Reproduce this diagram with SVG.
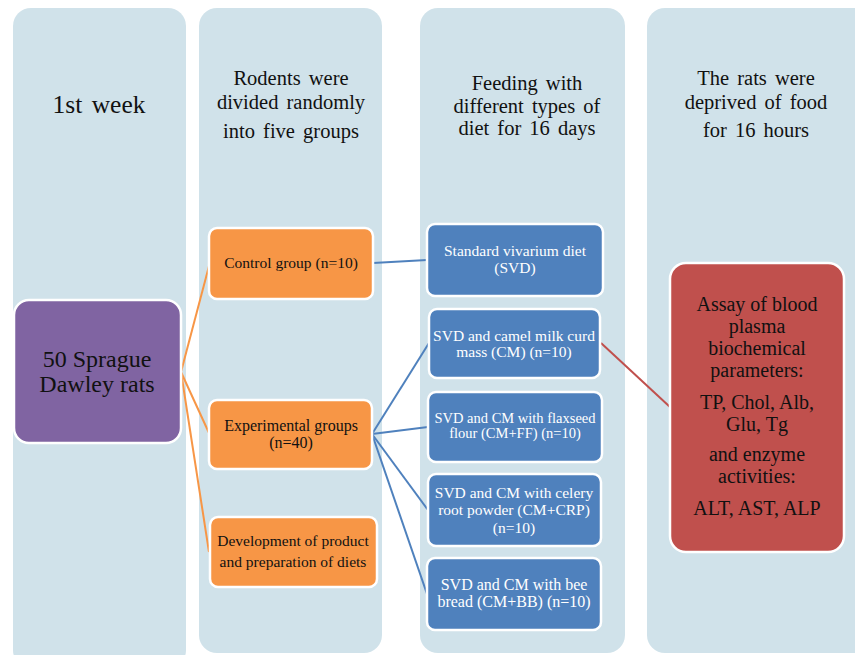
<svg xmlns="http://www.w3.org/2000/svg" width="855" height="655" viewBox="0 0 855 655">
<style>
.col{fill:#D0E2EA}
.hdr{font-family:"Liberation Serif","Times New Roman",serif;font-size:20.5px;fill:#111;text-anchor:middle;word-spacing:3px}
.nd{stroke:#fff;stroke-width:2.5}
.or{fill:#F79646}
.bl{fill:#4F81BD}
.pu{fill:#8064A2}
.rd{fill:#C0504D}
.t{font-family:"Liberation Serif","Times New Roman",serif;font-size:15.5px;text-anchor:middle}
.tk{fill:#111}
.tw{fill:#fff}
.lo{stroke:#F79646;stroke-width:2;fill:none}
.lb{stroke:#4F81BD;stroke-width:2;fill:none}
.lr{stroke:#C0504D;stroke-width:2;fill:none}
</style>
<rect width="855" height="655" fill="#fff"/>
<g id="columns">
<rect class="col" x="13" y="8" width="173" height="660" rx="18"/>
<rect class="col" x="199" y="8" width="183" height="645" rx="18"/>
<rect class="col" x="420" y="8" width="205" height="645" rx="18"/>
<rect class="col" x="647" y="8" width="230" height="645" rx="18"/>
</g>
<g id="headers">
<text class="hdr" x="99" y="113" style="font-size:25.5px">1st week</text>
<text class="hdr" x="291" y="85">Rodents were</text>
<text class="hdr" x="291" y="109">divided randomly</text>
<text class="hdr" x="291" y="138">into five groups</text>
<text class="hdr" x="527" y="90">Feeding with</text>
<text class="hdr" x="527" y="113">different types of</text>
<text class="hdr" x="527" y="135">diet for 16 days</text>
<text class="hdr" x="756" y="85">The rats were</text>
<text class="hdr" x="756" y="109">deprived of food</text>
<text class="hdr" x="756" y="137">for 16 hours</text>
</g>
<g id="connectors">
<line class="lo" x1="181" y1="372" x2="209" y2="266"/>
<line class="lo" x1="181" y1="372" x2="209" y2="433"/>
<line class="lo" x1="181" y1="372" x2="209" y2="552"/>
<line class="lb" x1="373" y1="263" x2="427" y2="260"/>
<line class="lb" x1="372" y1="434" x2="429" y2="343"/>
<line class="lb" x1="372" y1="434" x2="428" y2="427"/>
<line class="lb" x1="372" y1="434" x2="428" y2="510"/>
<line class="lb" x1="372" y1="434" x2="427" y2="594"/>
<line class="lr" x1="601" y1="343" x2="670" y2="407"/>
</g>
<g id="rats">
<rect class="nd pu" x="14" y="300" width="167" height="143" rx="15"/>
<text class="t tk" x="97" y="367" style="font-size:24px">50 Sprague</text>
<text class="t tk" x="97" y="392" style="font-size:24px">Dawley rats</text>
</g>
<g id="control">
<rect class="nd or" x="209" y="228" width="164" height="71" rx="8"/>
<text class="t tk" x="291" y="268">Control group (n=10)</text>
</g>
<g id="experimental">
<rect class="nd or" x="209" y="400" width="163" height="69" rx="8"/>
<text class="t tk" x="291" y="431" style="font-size:16px">Experimental groups</text>
<text class="t tk" x="291" y="448" style="font-size:16px">(n=40)</text>
</g>
<g id="development">
<rect class="nd or" x="210" y="517" width="167" height="70" rx="8"/>
<text class="t tk" x="293" y="546">Development of product</text>
<text class="t tk" x="293" y="567">and preparation of diets</text>
</g>
<g id="svd">
<rect class="nd bl" x="427" y="224" width="176" height="72" rx="8"/>
<text class="t tw" x="515" y="256">Standard vivarium  diet</text>
<text class="t tw" x="515" y="273">(SVD)</text>
</g>
<g id="cm">
<rect class="nd bl" x="429" y="309" width="171" height="69" rx="8"/>
<text class="t tw" x="514" y="341">SVD and camel milk curd</text>
<text class="t tw" x="514" y="357">mass (CM) (n=10)</text>
</g>
<g id="cmff">
<rect class="nd bl" x="428" y="392" width="174" height="70" rx="8"/>
<text class="t tw" x="515" y="423" style="font-size:14.5px">SVD and CM with flaxseed</text>
<text class="t tw" x="515" y="438" style="font-size:14.5px">flour (CM+FF) (n=10)</text>
</g>
<g id="cmcrp">
<rect class="nd bl" x="428" y="474" width="173" height="72" rx="8"/>
<text class="t tw" x="514" y="498">SVD and CM with celery</text>
<text class="t tw" x="514" y="515">root powder (CM+CRP)</text>
<text class="t tw" x="514" y="533">(n=10)</text>
</g>
<g id="cmbb">
<rect class="nd bl" x="427" y="558" width="174" height="72" rx="8"/>
<text class="t tw" x="514" y="590" style="font-size:16px">SVD and CM with bee</text>
<text class="t tw" x="514" y="607" style="font-size:16px">bread (CM+BB) (n=10)</text>
</g>
<g id="assay">
<rect class="nd rd" x="670" y="263" width="174" height="289" rx="16"/>
<g class="t tk" style="font-size:20px">
<text x="757" y="311">Assay of blood</text>
<text x="757" y="333">plasma</text>
<text x="757" y="355">biochemical</text>
<text x="757" y="377">parameters:</text>
<text x="757" y="409">TP, Chol, Alb,</text>
<text x="757" y="431">Glu, Tg</text>
<text x="757" y="461">and enzyme</text>
<text x="757" y="483">activities:</text>
<text x="757" y="515">ALT, AST, ALP</text>
</g>
</g>
</svg>
